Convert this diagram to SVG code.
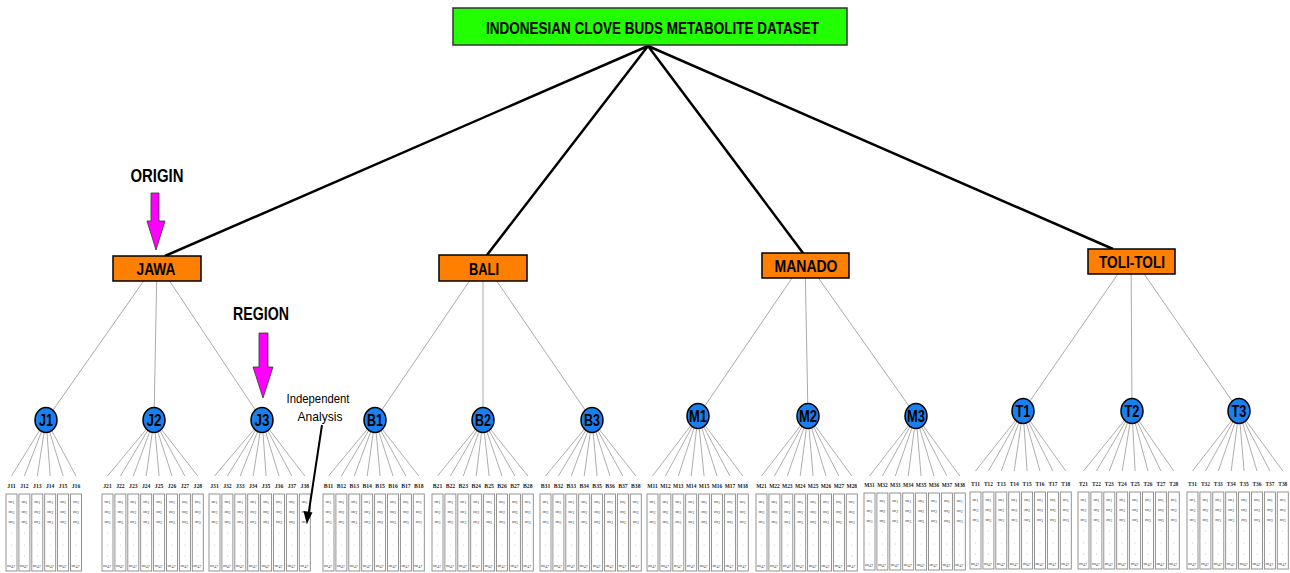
<svg xmlns="http://www.w3.org/2000/svg" width="1290" height="573" viewBox="0 0 1290 573">
<style>
.top{stroke:#000;stroke-width:2.5;fill:none}
.reg{stroke:#aaa;stroke-width:1;fill:none}
.leaf{stroke:#999;stroke-width:0.8;fill:none}
.cb{fill:#fff;stroke:#888;stroke-width:0.9}
.m{font-family:"Liberation Serif",serif;font-size:5px;fill:#444;text-anchor:middle}
.s{font-size:4px}
.d{fill:#999}
.lbl{font-family:"Liberation Serif",serif;font-size:6.5px;font-weight:bold;fill:#222;text-anchor:middle}
.node ellipse{fill:#1a80f0;stroke:#000;stroke-width:1.5}
.nt{font-family:"Liberation Sans",Arial,sans-serif;font-weight:bold;font-size:16.5px;text-anchor:middle;fill:#000}
.box{fill:#ff8000;stroke:#000;stroke-width:1.5}
.bt{font-family:"Liberation Sans",Arial,sans-serif;font-weight:bold;font-size:17px;text-anchor:middle;fill:#000}
.cap{font-family:"Liberation Sans",Arial,sans-serif;font-weight:bold;font-size:18px;text-anchor:middle;fill:#000}
.pin{fill:#ff00ff;stroke:#333;stroke-width:0.8}
.note{font-family:"Liberation Sans",Arial,sans-serif;font-size:13.5px;text-anchor:middle;fill:#000}
</style>
<defs>
<g id="col">
<rect class="cb" x="0" y="0" width="11" height="77"/>
<text class="m" x="5.5" y="9">m<tspan class="s" dy="1">1</tspan></text>
<text class="m" x="5.5" y="18.5">m<tspan class="s" dy="1">2</tspan></text>
<text class="m" x="5.5" y="29">m<tspan class="s" dy="1">3</tspan></text>
<circle class="d" cx="5.5" cy="39" r="0.45"/>
<circle class="d" cx="5.5" cy="51" r="0.45"/>
<circle class="d" cx="5.5" cy="62" r="0.45"/>
<text class="m" x="5" y="73">m<tspan class="s" dy="1">47</tspan></text>
</g>
<marker id="ah" viewBox="0 0 10 10" refX="9" refY="5" markerWidth="4" markerHeight="4" orient="auto">
<path d="M0 0L10 5L0 10z" fill="#000"/>
</marker>
</defs>
<rect width="1290" height="573" fill="#fff"/>

<g id="connectors">
<path class="top" d="M648 46L165 256M648 46L487 255M648 46L803 253M648 46L1113 249"/>
<path class="reg" d="M157 262L46 420M157 262L154 420M157 262L262 420M483 261L375 420M483 261L483 420M483 261L592 420M805 259L698 416M805 259L808 416M805 259L916 416M1131 255L1023 411M1131 255L1132 411M1131 255L1239 411"/>
<path class="leaf" d="M46 420L11.5 476M46 420L24.4 476M46 420L37.3 476M46 420L50.2 476M46 420L63.1 476M46 420L76 476"/>
<path class="leaf" d="M154 420L107.5 476M154 420L120.4 476M154 420L133.3 476M154 420L146.2 476M154 420L159.1 476M154 420L172 476M154 420L184.9 476M154 420L197.8 476"/>
<path class="leaf" d="M262 420L214.5 476M262 420L227.4 476M262 420L240.3 476M262 420L253.2 476M262 420L266.1 476M262 420L279 476M262 420L291.9 476M262 420L304.8 476"/>
<path class="leaf" d="M375 420L328.5 476M375 420L341.4 476M375 420L354.3 476M375 420L367.2 476M375 420L380.1 476M375 420L393 476M375 420L405.9 476M375 420L418.8 476"/>
<path class="leaf" d="M483 420L437.5 476M483 420L450.4 476M483 420L463.3 476M483 420L476.2 476M483 420L489.1 476M483 420L502 476M483 420L514.9 476M483 420L527.8 476"/>
<path class="leaf" d="M592 420L545.5 476M592 420L558.4 476M592 420L571.3 476M592 420L584.2 476M592 420L597.1 476M592 420L610 476M592 420L622.9 476M592 420L635.8 476"/>
<path class="leaf" d="M698 416L652.5 476M698 416L665.4 476M698 416L678.3 476M698 416L691.2 476M698 416L704.1 476M698 416L717 476M698 416L729.9 476M698 416L742.8 476"/>
<path class="leaf" d="M808 416L761.5 476M808 416L774.4 476M808 416L787.3 476M808 416L800.2 476M808 416L813.1 476M808 416L826 476M808 416L838.9 476M808 416L851.8 476"/>
<path class="leaf" d="M916 416L869.5 476M916 416L882.4 476M916 416L895.3 476M916 416L908.2 476M916 416L921.1 476M916 416L934 476M916 416L946.9 476M916 416L959.8 476"/>
<path class="leaf" d="M1023 411L975.5 471M1023 411L988.4 471M1023 411L1001.3 471M1023 411L1014.2 471M1023 411L1027.1 471M1023 411L1040 471M1023 411L1052.9 471M1023 411L1065.8 471"/>
<path class="leaf" d="M1132 411L1083.5 471M1132 411L1096.4 471M1132 411L1109.3 471M1132 411L1122.2 471M1132 411L1135.1 471M1132 411L1148 471M1132 411L1160.9 471M1132 411L1173.8 471"/>
<path class="leaf" d="M1239 411L1192.5 471M1239 411L1205.4 471M1239 411L1218.3 471M1239 411L1231.2 471M1239 411L1244.1 471M1239 411L1257 471M1239 411L1269.9 471M1239 411L1282.8 471"/>
</g>

<g id="root">
<rect x="453" y="8" width="394" height="37" fill="#22ff00" stroke="#333" stroke-width="1.5"/>
<text x="652.5" y="34" font-family="'Liberation Sans',Arial,sans-serif" font-weight="bold" font-size="17" text-anchor="middle" textLength="333" lengthAdjust="spacingAndGlyphs">INDONESIAN CLOVE BUDS METABOLITE DATASET</text>
</g>

<g id="jawa"><rect class="box" x="113" y="256" width="88" height="25"/><text class="bt" x="156" y="274.5" textLength="39" lengthAdjust="spacingAndGlyphs">JAWA</text></g>
<g id="bali"><rect class="box" x="439" y="255" width="88" height="26"/><text class="bt" x="484" y="274.5" textLength="30" lengthAdjust="spacingAndGlyphs">BALI</text></g>
<g id="manado"><rect class="box" x="762" y="253" width="87" height="25"/><text class="bt" x="806" y="272" textLength="63" lengthAdjust="spacingAndGlyphs">MANADO</text></g>
<g id="toli"><rect class="box" x="1088" y="249" width="87" height="25"/><text class="bt" x="1132" y="268" textLength="66" lengthAdjust="spacingAndGlyphs">TOLI-TOLI</text></g>

<g id="origin">
<text class="cap" x="157" y="182" textLength="53" lengthAdjust="spacingAndGlyphs">ORIGIN</text>
<polygon class="pin" points="151,193 159,193 159,221 165,221 156,250 147,221 151,221"/>
</g>
<g id="region">
<text class="cap" x="261" y="320" textLength="56" lengthAdjust="spacingAndGlyphs">REGION</text>
<polygon class="pin" points="259,333 268,333 268,367 273,367 263,398 253,367 259,367"/>
</g>

<g id="J1" class="node"><ellipse cx="46" cy="420" rx="11" ry="12.5"/><text class="nt" x="46" y="426" textLength="14" lengthAdjust="spacingAndGlyphs">J1</text></g>
<g id="J2" class="node"><ellipse cx="154" cy="420" rx="11" ry="12.5"/><text class="nt" x="154" y="426" textLength="15" lengthAdjust="spacingAndGlyphs">J2</text></g>
<g id="J3" class="node"><ellipse cx="262" cy="420" rx="11" ry="12.5"/><text class="nt" x="262" y="426" textLength="15" lengthAdjust="spacingAndGlyphs">J3</text></g>
<g id="B1" class="node"><ellipse cx="375" cy="420" rx="11" ry="12.5"/><text class="nt" x="375" y="426" textLength="16" lengthAdjust="spacingAndGlyphs">B1</text></g>
<g id="B2" class="node"><ellipse cx="483" cy="420" rx="11" ry="12.5"/><text class="nt" x="483" y="426" textLength="16" lengthAdjust="spacingAndGlyphs">B2</text></g>
<g id="B3" class="node"><ellipse cx="592" cy="420" rx="11" ry="12.5"/><text class="nt" x="592" y="426" textLength="16" lengthAdjust="spacingAndGlyphs">B3</text></g>
<g id="M1" class="node"><ellipse cx="698" cy="416" rx="11" ry="12.5"/><text class="nt" x="698" y="422" textLength="18" lengthAdjust="spacingAndGlyphs">M1</text></g>
<g id="M2" class="node"><ellipse cx="808" cy="416" rx="11" ry="12.5"/><text class="nt" x="808" y="422" textLength="18" lengthAdjust="spacingAndGlyphs">M2</text></g>
<g id="M3" class="node"><ellipse cx="916" cy="416" rx="11" ry="12.5"/><text class="nt" x="916" y="422" textLength="18" lengthAdjust="spacingAndGlyphs">M3</text></g>
<g id="T1" class="node"><ellipse cx="1023" cy="411" rx="11" ry="12.5"/><text class="nt" x="1023" y="417" textLength="15" lengthAdjust="spacingAndGlyphs">T1</text></g>
<g id="T2" class="node"><ellipse cx="1132" cy="411" rx="11" ry="12.5"/><text class="nt" x="1132" y="417" textLength="15" lengthAdjust="spacingAndGlyphs">T2</text></g>
<g id="T3" class="node"><ellipse cx="1239" cy="411" rx="11" ry="12.5"/><text class="nt" x="1239" y="417" textLength="15" lengthAdjust="spacingAndGlyphs">T3</text></g>

<!-- sample columns: label above, metabolite box below -->
<g id="J1-samples">
<g id="J11"><text class="lbl" x="11.5" y="487.5" textLength="8.5" lengthAdjust="spacingAndGlyphs">J11</text><use href="#col" x="6" y="494"/></g>
<g id="J12"><text class="lbl" x="24.4" y="487.5" textLength="8.5" lengthAdjust="spacingAndGlyphs">J12</text><use href="#col" x="18.9" y="494"/></g>
<g id="J13"><text class="lbl" x="37.3" y="487.5" textLength="8.5" lengthAdjust="spacingAndGlyphs">J13</text><use href="#col" x="31.8" y="494"/></g>
<g id="J14"><text class="lbl" x="50.2" y="487.5" textLength="8.5" lengthAdjust="spacingAndGlyphs">J14</text><use href="#col" x="44.7" y="494"/></g>
<g id="J15"><text class="lbl" x="63.1" y="487.5" textLength="8.5" lengthAdjust="spacingAndGlyphs">J15</text><use href="#col" x="57.6" y="494"/></g>
<g id="J16"><text class="lbl" x="76" y="487.5" textLength="8.5" lengthAdjust="spacingAndGlyphs">J16</text><use href="#col" x="70.5" y="494"/></g>
</g>
<g id="J2-samples">
<g id="J21"><text class="lbl" x="107.5" y="487.5" textLength="8.5" lengthAdjust="spacingAndGlyphs">J21</text><use href="#col" x="102" y="494"/></g>
<g id="J22"><text class="lbl" x="120.4" y="487.5" textLength="8.5" lengthAdjust="spacingAndGlyphs">J22</text><use href="#col" x="114.9" y="494"/></g>
<g id="J23"><text class="lbl" x="133.3" y="487.5" textLength="8.5" lengthAdjust="spacingAndGlyphs">J23</text><use href="#col" x="127.8" y="494"/></g>
<g id="J24"><text class="lbl" x="146.2" y="487.5" textLength="8.5" lengthAdjust="spacingAndGlyphs">J24</text><use href="#col" x="140.7" y="494"/></g>
<g id="J25"><text class="lbl" x="159.1" y="487.5" textLength="8.5" lengthAdjust="spacingAndGlyphs">J25</text><use href="#col" x="153.6" y="494"/></g>
<g id="J26"><text class="lbl" x="172" y="487.5" textLength="8.5" lengthAdjust="spacingAndGlyphs">J26</text><use href="#col" x="166.5" y="494"/></g>
<g id="J27"><text class="lbl" x="184.9" y="487.5" textLength="8.5" lengthAdjust="spacingAndGlyphs">J27</text><use href="#col" x="179.4" y="494"/></g>
<g id="J28"><text class="lbl" x="197.8" y="487.5" textLength="8.5" lengthAdjust="spacingAndGlyphs">J28</text><use href="#col" x="192.3" y="494"/></g>
</g>
<g id="J3-samples">
<g id="J31"><text class="lbl" x="214.5" y="487.5" textLength="8.5" lengthAdjust="spacingAndGlyphs">J31</text><use href="#col" x="209" y="494"/></g>
<g id="J32"><text class="lbl" x="227.4" y="487.5" textLength="8.5" lengthAdjust="spacingAndGlyphs">J32</text><use href="#col" x="221.9" y="494"/></g>
<g id="J33"><text class="lbl" x="240.3" y="487.5" textLength="8.5" lengthAdjust="spacingAndGlyphs">J33</text><use href="#col" x="234.8" y="494"/></g>
<g id="J34"><text class="lbl" x="253.2" y="487.5" textLength="8.5" lengthAdjust="spacingAndGlyphs">J34</text><use href="#col" x="247.7" y="494"/></g>
<g id="J35"><text class="lbl" x="266.1" y="487.5" textLength="8.5" lengthAdjust="spacingAndGlyphs">J35</text><use href="#col" x="260.6" y="494"/></g>
<g id="J36"><text class="lbl" x="279" y="487.5" textLength="8.5" lengthAdjust="spacingAndGlyphs">J36</text><use href="#col" x="273.5" y="494"/></g>
<g id="J37"><text class="lbl" x="291.9" y="487.5" textLength="8.5" lengthAdjust="spacingAndGlyphs">J37</text><use href="#col" x="286.4" y="494"/></g>
<g id="J38"><text class="lbl" x="304.8" y="487.5" textLength="8.5" lengthAdjust="spacingAndGlyphs">J38</text><use href="#col" x="299.3" y="494"/></g>
</g>
<g id="B1-samples">
<g id="B11"><text class="lbl" x="328.5" y="487.5" textLength="9.5" lengthAdjust="spacingAndGlyphs">B11</text><use href="#col" x="323" y="494"/></g>
<g id="B12"><text class="lbl" x="341.4" y="487.5" textLength="9.5" lengthAdjust="spacingAndGlyphs">B12</text><use href="#col" x="335.9" y="494"/></g>
<g id="B13"><text class="lbl" x="354.3" y="487.5" textLength="9.5" lengthAdjust="spacingAndGlyphs">B13</text><use href="#col" x="348.8" y="494"/></g>
<g id="B14"><text class="lbl" x="367.2" y="487.5" textLength="9.5" lengthAdjust="spacingAndGlyphs">B14</text><use href="#col" x="361.7" y="494"/></g>
<g id="B15"><text class="lbl" x="380.1" y="487.5" textLength="9.5" lengthAdjust="spacingAndGlyphs">B15</text><use href="#col" x="374.6" y="494"/></g>
<g id="B16"><text class="lbl" x="393" y="487.5" textLength="9.5" lengthAdjust="spacingAndGlyphs">B16</text><use href="#col" x="387.5" y="494"/></g>
<g id="B17"><text class="lbl" x="405.9" y="487.5" textLength="9.5" lengthAdjust="spacingAndGlyphs">B17</text><use href="#col" x="400.4" y="494"/></g>
<g id="B18"><text class="lbl" x="418.8" y="487.5" textLength="9.5" lengthAdjust="spacingAndGlyphs">B18</text><use href="#col" x="413.3" y="494"/></g>
</g>
<g id="B2-samples">
<g id="B21"><text class="lbl" x="437.5" y="487.5" textLength="9.5" lengthAdjust="spacingAndGlyphs">B21</text><use href="#col" x="432" y="494"/></g>
<g id="B22"><text class="lbl" x="450.4" y="487.5" textLength="9.5" lengthAdjust="spacingAndGlyphs">B22</text><use href="#col" x="444.9" y="494"/></g>
<g id="B23"><text class="lbl" x="463.3" y="487.5" textLength="9.5" lengthAdjust="spacingAndGlyphs">B23</text><use href="#col" x="457.8" y="494"/></g>
<g id="B24"><text class="lbl" x="476.2" y="487.5" textLength="9.5" lengthAdjust="spacingAndGlyphs">B24</text><use href="#col" x="470.7" y="494"/></g>
<g id="B25"><text class="lbl" x="489.1" y="487.5" textLength="9.5" lengthAdjust="spacingAndGlyphs">B25</text><use href="#col" x="483.6" y="494"/></g>
<g id="B26"><text class="lbl" x="502" y="487.5" textLength="9.5" lengthAdjust="spacingAndGlyphs">B26</text><use href="#col" x="496.5" y="494"/></g>
<g id="B27"><text class="lbl" x="514.9" y="487.5" textLength="9.5" lengthAdjust="spacingAndGlyphs">B27</text><use href="#col" x="509.4" y="494"/></g>
<g id="B28"><text class="lbl" x="527.8" y="487.5" textLength="9.5" lengthAdjust="spacingAndGlyphs">B28</text><use href="#col" x="522.3" y="494"/></g>
</g>
<g id="B3-samples">
<g id="B31"><text class="lbl" x="545.5" y="487.5" textLength="9.5" lengthAdjust="spacingAndGlyphs">B31</text><use href="#col" x="540" y="494"/></g>
<g id="B32"><text class="lbl" x="558.4" y="487.5" textLength="9.5" lengthAdjust="spacingAndGlyphs">B32</text><use href="#col" x="552.9" y="494"/></g>
<g id="B33"><text class="lbl" x="571.3" y="487.5" textLength="9.5" lengthAdjust="spacingAndGlyphs">B33</text><use href="#col" x="565.8" y="494"/></g>
<g id="B34"><text class="lbl" x="584.2" y="487.5" textLength="9.5" lengthAdjust="spacingAndGlyphs">B34</text><use href="#col" x="578.7" y="494"/></g>
<g id="B35"><text class="lbl" x="597.1" y="487.5" textLength="9.5" lengthAdjust="spacingAndGlyphs">B35</text><use href="#col" x="591.6" y="494"/></g>
<g id="B36"><text class="lbl" x="610" y="487.5" textLength="9.5" lengthAdjust="spacingAndGlyphs">B36</text><use href="#col" x="604.5" y="494"/></g>
<g id="B37"><text class="lbl" x="622.9" y="487.5" textLength="9.5" lengthAdjust="spacingAndGlyphs">B37</text><use href="#col" x="617.4" y="494"/></g>
<g id="B38"><text class="lbl" x="635.8" y="487.5" textLength="9.5" lengthAdjust="spacingAndGlyphs">B38</text><use href="#col" x="630.3" y="494"/></g>
</g>
<g id="M1-samples">
<g id="M11"><text class="lbl" x="652.5" y="488" textLength="10.5" lengthAdjust="spacingAndGlyphs">M11</text><use href="#col" x="647" y="494"/></g>
<g id="M12"><text class="lbl" x="665.4" y="488" textLength="10.5" lengthAdjust="spacingAndGlyphs">M12</text><use href="#col" x="659.9" y="494"/></g>
<g id="M13"><text class="lbl" x="678.3" y="488" textLength="10.5" lengthAdjust="spacingAndGlyphs">M13</text><use href="#col" x="672.8" y="494"/></g>
<g id="M14"><text class="lbl" x="691.2" y="488" textLength="10.5" lengthAdjust="spacingAndGlyphs">M14</text><use href="#col" x="685.7" y="494"/></g>
<g id="M15"><text class="lbl" x="704.1" y="488" textLength="10.5" lengthAdjust="spacingAndGlyphs">M15</text><use href="#col" x="698.6" y="494"/></g>
<g id="M16"><text class="lbl" x="717" y="488" textLength="10.5" lengthAdjust="spacingAndGlyphs">M16</text><use href="#col" x="711.5" y="494"/></g>
<g id="M17"><text class="lbl" x="729.9" y="488" textLength="10.5" lengthAdjust="spacingAndGlyphs">M17</text><use href="#col" x="724.4" y="494"/></g>
<g id="M18"><text class="lbl" x="742.8" y="488" textLength="10.5" lengthAdjust="spacingAndGlyphs">M18</text><use href="#col" x="737.3" y="494"/></g>
</g>
<g id="M2-samples">
<g id="M21"><text class="lbl" x="761.5" y="488" textLength="10.5" lengthAdjust="spacingAndGlyphs">M21</text><use href="#col" x="756" y="494"/></g>
<g id="M22"><text class="lbl" x="774.4" y="488" textLength="10.5" lengthAdjust="spacingAndGlyphs">M22</text><use href="#col" x="768.9" y="494"/></g>
<g id="M23"><text class="lbl" x="787.3" y="488" textLength="10.5" lengthAdjust="spacingAndGlyphs">M23</text><use href="#col" x="781.8" y="494"/></g>
<g id="M24"><text class="lbl" x="800.2" y="488" textLength="10.5" lengthAdjust="spacingAndGlyphs">M24</text><use href="#col" x="794.7" y="494"/></g>
<g id="M25"><text class="lbl" x="813.1" y="488" textLength="10.5" lengthAdjust="spacingAndGlyphs">M25</text><use href="#col" x="807.6" y="494"/></g>
<g id="M26"><text class="lbl" x="826" y="488" textLength="10.5" lengthAdjust="spacingAndGlyphs">M26</text><use href="#col" x="820.5" y="494"/></g>
<g id="M27"><text class="lbl" x="838.9" y="488" textLength="10.5" lengthAdjust="spacingAndGlyphs">M27</text><use href="#col" x="833.4" y="494"/></g>
<g id="M28"><text class="lbl" x="851.8" y="488" textLength="10.5" lengthAdjust="spacingAndGlyphs">M28</text><use href="#col" x="846.3" y="494"/></g>
</g>
<g id="M3-samples">
<g id="M31"><text class="lbl" x="869.5" y="487" textLength="10.5" lengthAdjust="spacingAndGlyphs">M31</text><use href="#col" x="864" y="493"/></g>
<g id="M32"><text class="lbl" x="882.4" y="487" textLength="10.5" lengthAdjust="spacingAndGlyphs">M32</text><use href="#col" x="876.9" y="493"/></g>
<g id="M33"><text class="lbl" x="895.3" y="487" textLength="10.5" lengthAdjust="spacingAndGlyphs">M33</text><use href="#col" x="889.8" y="493"/></g>
<g id="M34"><text class="lbl" x="908.2" y="487" textLength="10.5" lengthAdjust="spacingAndGlyphs">M34</text><use href="#col" x="902.7" y="493"/></g>
<g id="M35"><text class="lbl" x="921.1" y="487" textLength="10.5" lengthAdjust="spacingAndGlyphs">M35</text><use href="#col" x="915.6" y="493"/></g>
<g id="M36"><text class="lbl" x="934" y="487" textLength="10.5" lengthAdjust="spacingAndGlyphs">M36</text><use href="#col" x="928.5" y="493"/></g>
<g id="M37"><text class="lbl" x="946.9" y="487" textLength="10.5" lengthAdjust="spacingAndGlyphs">M37</text><use href="#col" x="941.4" y="493"/></g>
<g id="M38"><text class="lbl" x="959.8" y="487" textLength="10.5" lengthAdjust="spacingAndGlyphs">M38</text><use href="#col" x="954.3" y="493"/></g>
</g>
<g id="T1-samples">
<g id="T11"><text class="lbl" x="975.5" y="486" textLength="9" lengthAdjust="spacingAndGlyphs">T11</text><use href="#col" x="970" y="492"/></g>
<g id="T12"><text class="lbl" x="988.4" y="486" textLength="9" lengthAdjust="spacingAndGlyphs">T12</text><use href="#col" x="982.9" y="492"/></g>
<g id="T13"><text class="lbl" x="1001.3" y="486" textLength="9" lengthAdjust="spacingAndGlyphs">T13</text><use href="#col" x="995.8" y="492"/></g>
<g id="T14"><text class="lbl" x="1014.2" y="486" textLength="9" lengthAdjust="spacingAndGlyphs">T14</text><use href="#col" x="1008.7" y="492"/></g>
<g id="T15"><text class="lbl" x="1027.1" y="486" textLength="9" lengthAdjust="spacingAndGlyphs">T15</text><use href="#col" x="1021.6" y="492"/></g>
<g id="T16"><text class="lbl" x="1040" y="486" textLength="9" lengthAdjust="spacingAndGlyphs">T16</text><use href="#col" x="1034.5" y="492"/></g>
<g id="T17"><text class="lbl" x="1052.9" y="486" textLength="9" lengthAdjust="spacingAndGlyphs">T17</text><use href="#col" x="1047.4" y="492"/></g>
<g id="T18"><text class="lbl" x="1065.8" y="486" textLength="9" lengthAdjust="spacingAndGlyphs">T18</text><use href="#col" x="1060.3" y="492"/></g>
</g>
<g id="T2-samples">
<g id="T21"><text class="lbl" x="1083.5" y="486" textLength="9" lengthAdjust="spacingAndGlyphs">T21</text><use href="#col" x="1078" y="492"/></g>
<g id="T22"><text class="lbl" x="1096.4" y="486" textLength="9" lengthAdjust="spacingAndGlyphs">T22</text><use href="#col" x="1090.9" y="492"/></g>
<g id="T23"><text class="lbl" x="1109.3" y="486" textLength="9" lengthAdjust="spacingAndGlyphs">T23</text><use href="#col" x="1103.8" y="492"/></g>
<g id="T24"><text class="lbl" x="1122.2" y="486" textLength="9" lengthAdjust="spacingAndGlyphs">T24</text><use href="#col" x="1116.7" y="492"/></g>
<g id="T25"><text class="lbl" x="1135.1" y="486" textLength="9" lengthAdjust="spacingAndGlyphs">T25</text><use href="#col" x="1129.6" y="492"/></g>
<g id="T26"><text class="lbl" x="1148" y="486" textLength="9" lengthAdjust="spacingAndGlyphs">T26</text><use href="#col" x="1142.5" y="492"/></g>
<g id="T27"><text class="lbl" x="1160.9" y="486" textLength="9" lengthAdjust="spacingAndGlyphs">T27</text><use href="#col" x="1155.4" y="492"/></g>
<g id="T28"><text class="lbl" x="1173.8" y="486" textLength="9" lengthAdjust="spacingAndGlyphs">T28</text><use href="#col" x="1168.3" y="492"/></g>
</g>
<g id="T3-samples">
<g id="T31"><text class="lbl" x="1192.5" y="486" textLength="9" lengthAdjust="spacingAndGlyphs">T31</text><use href="#col" x="1187" y="492"/></g>
<g id="T32"><text class="lbl" x="1205.4" y="486" textLength="9" lengthAdjust="spacingAndGlyphs">T32</text><use href="#col" x="1199.9" y="492"/></g>
<g id="T33"><text class="lbl" x="1218.3" y="486" textLength="9" lengthAdjust="spacingAndGlyphs">T33</text><use href="#col" x="1212.8" y="492"/></g>
<g id="T34"><text class="lbl" x="1231.2" y="486" textLength="9" lengthAdjust="spacingAndGlyphs">T34</text><use href="#col" x="1225.7" y="492"/></g>
<g id="T35"><text class="lbl" x="1244.1" y="486" textLength="9" lengthAdjust="spacingAndGlyphs">T35</text><use href="#col" x="1238.6" y="492"/></g>
<g id="T36"><text class="lbl" x="1257" y="486" textLength="9" lengthAdjust="spacingAndGlyphs">T36</text><use href="#col" x="1251.5" y="492"/></g>
<g id="T37"><text class="lbl" x="1269.9" y="486" textLength="9" lengthAdjust="spacingAndGlyphs">T37</text><use href="#col" x="1264.4" y="492"/></g>
<g id="T38"><text class="lbl" x="1282.8" y="486" textLength="9" lengthAdjust="spacingAndGlyphs">T38</text><use href="#col" x="1277.3" y="492"/></g>
</g>

<!-- annotation drawn last so its arrow sits over the J38 column -->
<g id="independent">
<text class="note" x="318" y="403" textLength="63" lengthAdjust="spacingAndGlyphs">Independent</text>
<text class="note" x="320" y="421" textLength="45" lengthAdjust="spacingAndGlyphs">Analysis</text>
<path d="M322 425L308.5 514" stroke="#000" stroke-width="2" fill="none"/>
<polygon points="303.5,511 312.5,512.5 306.8,524" fill="#000"/>
</g>
</svg>
